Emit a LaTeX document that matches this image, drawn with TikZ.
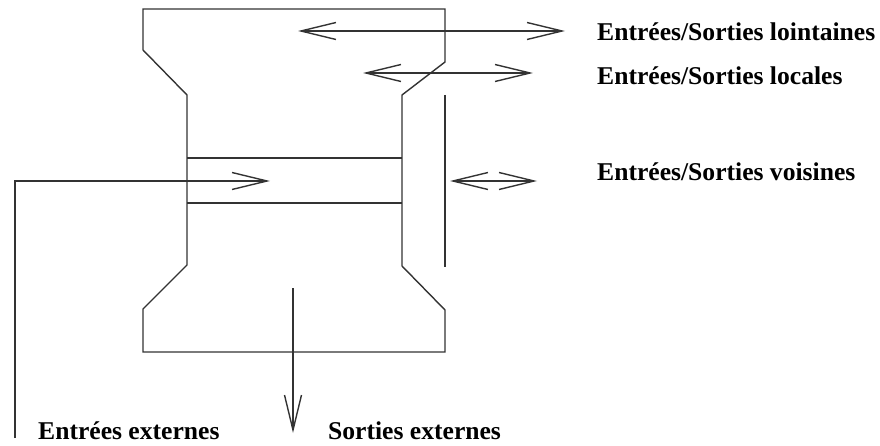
\documentclass[tikz,border=0pt]{standalone}
\usepackage{fontspec}
\setmainfont{Liberation Serif}
\usetikzlibrary{arrows.meta}
\begin{document}
\begin{tikzpicture}[x=1pt,y=-1pt,
  lin/.style={line width=1.4pt,draw=black!80},
  arr/.style={lin,>={Straight Barb[length=35pt,width=17pt]}},
  lbl/.style={anchor=base west,inner sep=0pt,font=\bfseries\fontsize{25.6}{30}\selectfont}]
\useasboundingbox (0,0) rectangle (880,446);
% outline of the block
\draw[lin] (143,9) -- (445,9) -- (445,62) -- (402,95) -- (402,266) -- (445,310)
  -- (445,352) -- (143,352) -- (143,309) -- (187,265) -- (187,95) -- (143,50) -- cycle;
% bus
\draw[lin] (187,158) -- (402,158);
\draw[lin] (187,203) -- (402,203);
% right bar
\coordinate (barT) at (445,95);
\coordinate (barB) at (445,267);
\draw[lin] (barT) -- (barB);
% coordinates
\coordinate (l1) at (298,31);  \coordinate (l2) at (565,31);
\coordinate (c1) at (363,73);  \coordinate (c2) at (533,73);
\coordinate (v1) at (450,181); \coordinate (v2) at (537,181);
\coordinate (e0) at (15,438);  \coordinate (e1) at (15,181); \coordinate (e2) at (270,181);
\coordinate (s1) at (293,288); \coordinate (s2) at (293,433);
% arrows
\draw[arr,<->] (l1) -- (l2);
\draw[arr,<->] (c1) -- (c2);
\draw[arr,<->] (v1) -- (v2);
\draw[arr,->] (e0) -- (e1) -- (e2);
\draw[arr,->] (s1) -- (s2);
% labels
\node[lbl] (tl) at (597,41) {Entrées/Sorties lointaines};
\node[lbl] (tc) at (597,85) {Entrées/Sorties locales};
\node[lbl] (tv) at (597,181) {Entrées/Sorties voisines};
\node[lbl] (te) at (38,439) {Entrées externes};
\node[lbl] (ts) at (328,439) {Sorties externes};
\end{tikzpicture}
\end{document}
